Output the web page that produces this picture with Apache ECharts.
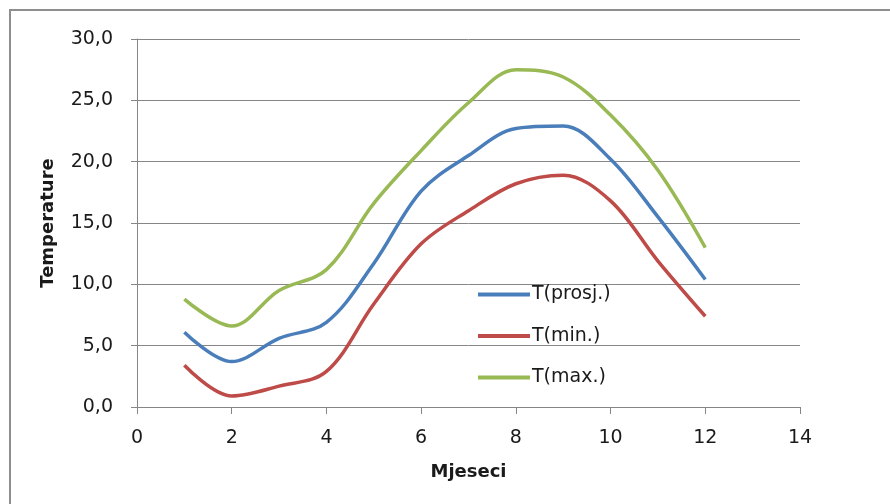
<!DOCTYPE html>
<html>
<head>
<meta charset="utf-8">
<title>Temperature</title>
<script src="https://cdn.jsdelivr.net/npm/echarts@6/dist/echarts.min.js"></script>
<style>
  html, body { margin: 0; padding: 0; background: #fff; }
  #chart { width: 890px; height: 504px; }
</style>
</head>
<body>
<div id="chart"></div>
<script>
  // mjeseci (x) i temperature po seriji
  var months = [1, 2, 3, 4, 5, 6, 7, 8, 9, 10, 11, 12];
  var tProsj = [6.1, 3.7, 5.6, 6.9, 11.7, 17.6, 20.5, 22.7, 22.9, 20.2, 15.5, 10.4];
  var tMin = [3.4, 0.9, 1.7, 2.9, 8.4, 13.3, 16.0, 18.2, 18.9, 16.8, 11.9, 7.4];
  var tMax = [8.8, 6.6, 9.5, 11.2, 16.6, 20.9, 24.8, 27.5, 26.9, 23.8, 19.3, 13.0];
  var seriesNames = ['T(prosj.)', 'T(min.)', 'T(max.)'];
  var seriesColors = ['#4a7ebb', '#be4b48', '#98b954'];

  var font = 'DejaVu Sans';
  var axisColor = '#868686';

  function pairs(values) {
    return months.map(function (m, i) { return [m, values[i]]; });
  }

  function lineSeries(name, values, color) {
    return {
      name: name,
      type: 'line',
      smooth: 0.35,
      symbol: 'none',
      data: pairs(values),
      itemStyle: { color: color },
      lineStyle: { color: color, width: 3.5 }
    };
  }

  var chart = echarts.init(document.getElementById('chart'));
  chart.setOption({
    animation: false,
    textStyle: { fontFamily: font },
    graphic: [{
      type: 'rect',
      shape: { x: 10, y: 10, width: 900, height: 600 },
      style: { fill: 'none', stroke: '#8e8e8e', lineWidth: 2 },
      silent: true
    }],
    grid: { left: 137, right: 90, top: 39, bottom: 97 },
    legend: {
      orient: 'vertical',
      left: 473,
      top: 280,
      icon: 'rect',
      itemWidth: 52,
      itemHeight: 4,
      itemGap: 22.5,
      data: seriesNames,
      textStyle: { fontFamily: font, fontSize: 19, color: '#1a1a1a', padding: [0, 0, 0, -3] }
    },
    xAxis: {
      type: 'value',
      min: 0,
      max: 14,
      interval: 2,
      name: 'Mjeseci',
      nameLocation: 'middle',
      nameGap: 56,
      nameTextStyle: { fontFamily: font, fontSize: 18, fontWeight: 'bold', color: '#1a1a1a' },
      axisLine: { show: true, lineStyle: { color: axisColor, width: 1 } },
      axisTick: { show: true, length: 7, lineStyle: { color: axisColor } },
      axisLabel: { margin: 22, fontSize: 19, color: '#1a1a1a' },
      splitLine: { show: false }
    },
    yAxis: {
      type: 'value',
      min: 0,
      max: 30,
      interval: 5,
      name: 'Temperature',
      nameLocation: 'middle',
      nameRotate: 90,
      nameGap: 80,
      nameTextStyle: { fontFamily: font, fontSize: 18, fontWeight: 'bold', color: '#1a1a1a' },
      axisLine: { show: true, lineStyle: { color: axisColor, width: 1 } },
      axisTick: { show: true, length: 6, lineStyle: { color: axisColor } },
      axisLabel: {
        margin: 24,
        fontSize: 19,
        color: '#1a1a1a',
        formatter: function (v) { return v.toFixed(1).replace('.', ','); }
      },
      splitLine: { show: true, lineStyle: { color: axisColor, width: 1 } }
    },
    series: [
      lineSeries(seriesNames[0], tProsj, seriesColors[0]),
      lineSeries(seriesNames[1], tMin, seriesColors[1]),
      lineSeries(seriesNames[2], tMax, seriesColors[2])
    ]
  });
</script>
</body>
</html>
